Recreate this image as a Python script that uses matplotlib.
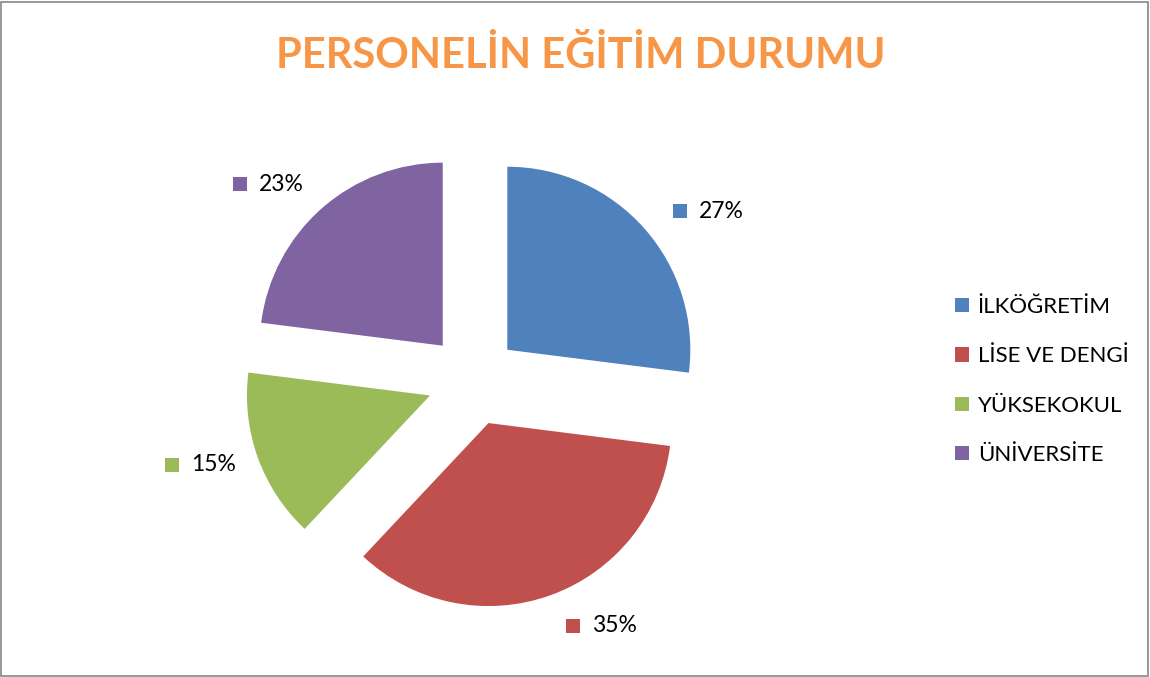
import matplotlib
matplotlib.use("Agg")
import matplotlib.pyplot as plt
from matplotlib.patches import Rectangle

categories = ["İLKÖĞRETİM", "LİSE VE DENGİ", "YÜKSEKOKUL", "ÜNİVERSİTE"]
values = [27, 35, 15, 23]
labels = ["27%", "35%", "15%", "23%"]
colors = ["#4F81BD", "#C0504D", "#9BBB59", "#8064A2"]
title = "PERSONELİN EĞİTİM DURUMU"

# label anchor positions (in pie-radius units, relative to centre)
label_pos = [(1.131, 0.923), (0.546, -1.344), (-1.645, -0.464), (-1.273, 1.071)]

W, H = 1150, 677
fig = plt.figure(figsize=(W / 100, H / 100), dpi=100)
plt.rcParams['font.family'] = ['Lato', 'DejaVu Sans']

R = 183.0
cx, cy = 473.0, 380.0
ax = fig.add_axes([0, 0, 1, 1])
ax.axis('off')

wedges, _ = ax.pie(values, colors=colors, startangle=90, counterclock=False,
                   explode=[0.25] * 4, radius=1.0, center=(0, 0),
                   wedgeprops=dict(linewidth=0))
ax.set_xlim(-cx / R, (W - cx) / R)
ax.set_ylim(-(H - cy) / R, cy / R)
ax.set_aspect('auto')

sq = 14 / R
for (x, y), lab, c in zip(label_pos, labels, colors):
    ax.add_patch(Rectangle((x - sq / 2, y - sq / 2), sq, sq, facecolor=c, edgecolor='none'))
    ax.text(x + 19 / R, y, lab, ha='left', va='center', fontsize=16.5, color='black')

fig.text(581 / W, 1 - 55 / H, title, ha='center', va='center', fontsize=30,
         fontweight='bold', color='#F79646')

fig.legend(wedges, categories, loc='center left', bbox_to_anchor=(935 / W, 1 - 381 / H),
           frameon=False, fontsize=16, handlelength=0.62, handleheight=0.62,
           handletextpad=0.4, labelspacing=1.32)

fig.add_artist(Rectangle((1 / W, 1 / H), (W - 3) / W, (H - 3) / H, transform=fig.transFigure,
                         fill=False, edgecolor='#868686', linewidth=1.2))

fig.savefig("out.png", dpi=100)
